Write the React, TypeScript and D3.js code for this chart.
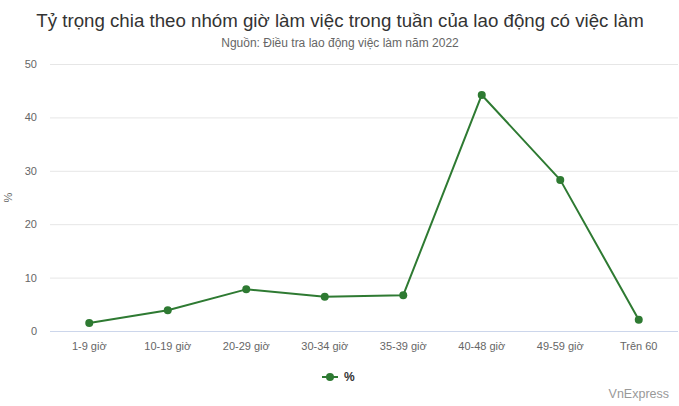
import React from 'react';
import * as d3 from 'd3';

const categories = ['1-9 giờ', '10-19 giờ', '20-29 giờ', '30-34 giờ', '35-39 giờ', '40-48 giờ', '49-59 giờ', 'Trên 60'];
const percentValues = [1.5, 3.9, 7.8, 6.4, 6.7, 44.2, 28.3, 2.1];
const yTicks = [0, 10, 20, 30, 40, 50];

const W = 679;
const H = 406;
const margin = { left: 50, right: 1, top: 64, bottom: 75 };
const FONT = '"Liberation Sans", Arial, sans-serif';
const LINE = '#2e7a32';

const App: React.FC = () => {
  const x = d3.scaleBand<string>()
    .domain(categories)
    .range([margin.left, W - margin.right]);

  const y = d3.scaleLinear()
    .domain([0, 50])
    .range([H - margin.bottom, margin.top]);

  const cx = (c: string) => (x(c) as number) + x.bandwidth() / 2;

  const line = d3.line<number>()
    .x((_, i) => cx(categories[i]))
    .y(d => y(d));

  return (
    <div style={{ position: 'fixed', left: 0, top: 0 }}>
      <svg width={W} height={H} style={{ display: 'block', fontFamily: FONT }}>
        <rect width={W} height={H} fill="#fff" />
        <text x={340} y={27} textAnchor="middle" fontSize={18.7} fill="#333">
          Tỷ trọng chia theo nhóm giờ làm việc trong tuần của lao động có việc làm
        </text>
        <text x={340} y={47} textAnchor="middle" fontSize={12} fill="#666">
          Nguồn: Điều tra lao động việc làm năm 2022
        </text>

        {yTicks.map(t => (
          <g key={t}>
            <line x1={margin.left} x2={W - margin.right} y1={y(t) + 0.5} y2={y(t) + 0.5}
              stroke={t === 0 ? '#ccd6eb' : '#e6e6e6'} strokeWidth={1} />
            <text x={37} y={y(t) + 4} textAnchor="end" fontSize={11} fill="#666">{t}</text>
          </g>
        ))}

        <text transform={`translate(12,${(y(0) + y(50)) / 2}) rotate(-90)`} textAnchor="middle"
          fontSize={11} fill="#666">%</text>

        {categories.map(c => (
          <text key={c} x={cx(c)} y={y(0) + 19} textAnchor="middle" fontSize={11} fill="#666">{c}</text>
        ))}

        <path d={line(percentValues) as string} fill="none" stroke={LINE} strokeWidth={2}
          strokeLinejoin="round" strokeLinecap="round" />
        {percentValues.map((v, i) => (
          <circle key={i} cx={cx(categories[i])} cy={y(v)} r={4} fill={LINE} />
        ))}

        <line x1={322} x2={338} y1={377} y2={377} stroke={LINE} strokeWidth={2} />
        <circle cx={330} cy={377} r={4} fill={LINE} />
        <text x={344} y={381} fontSize={12} fontWeight="bold" fill="#333">%</text>

        <text x={669} y={398} textAnchor="end" fontSize={12.5} fill="#999">VnExpress</text>
      </svg>
    </div>
  );
};

export default App;
